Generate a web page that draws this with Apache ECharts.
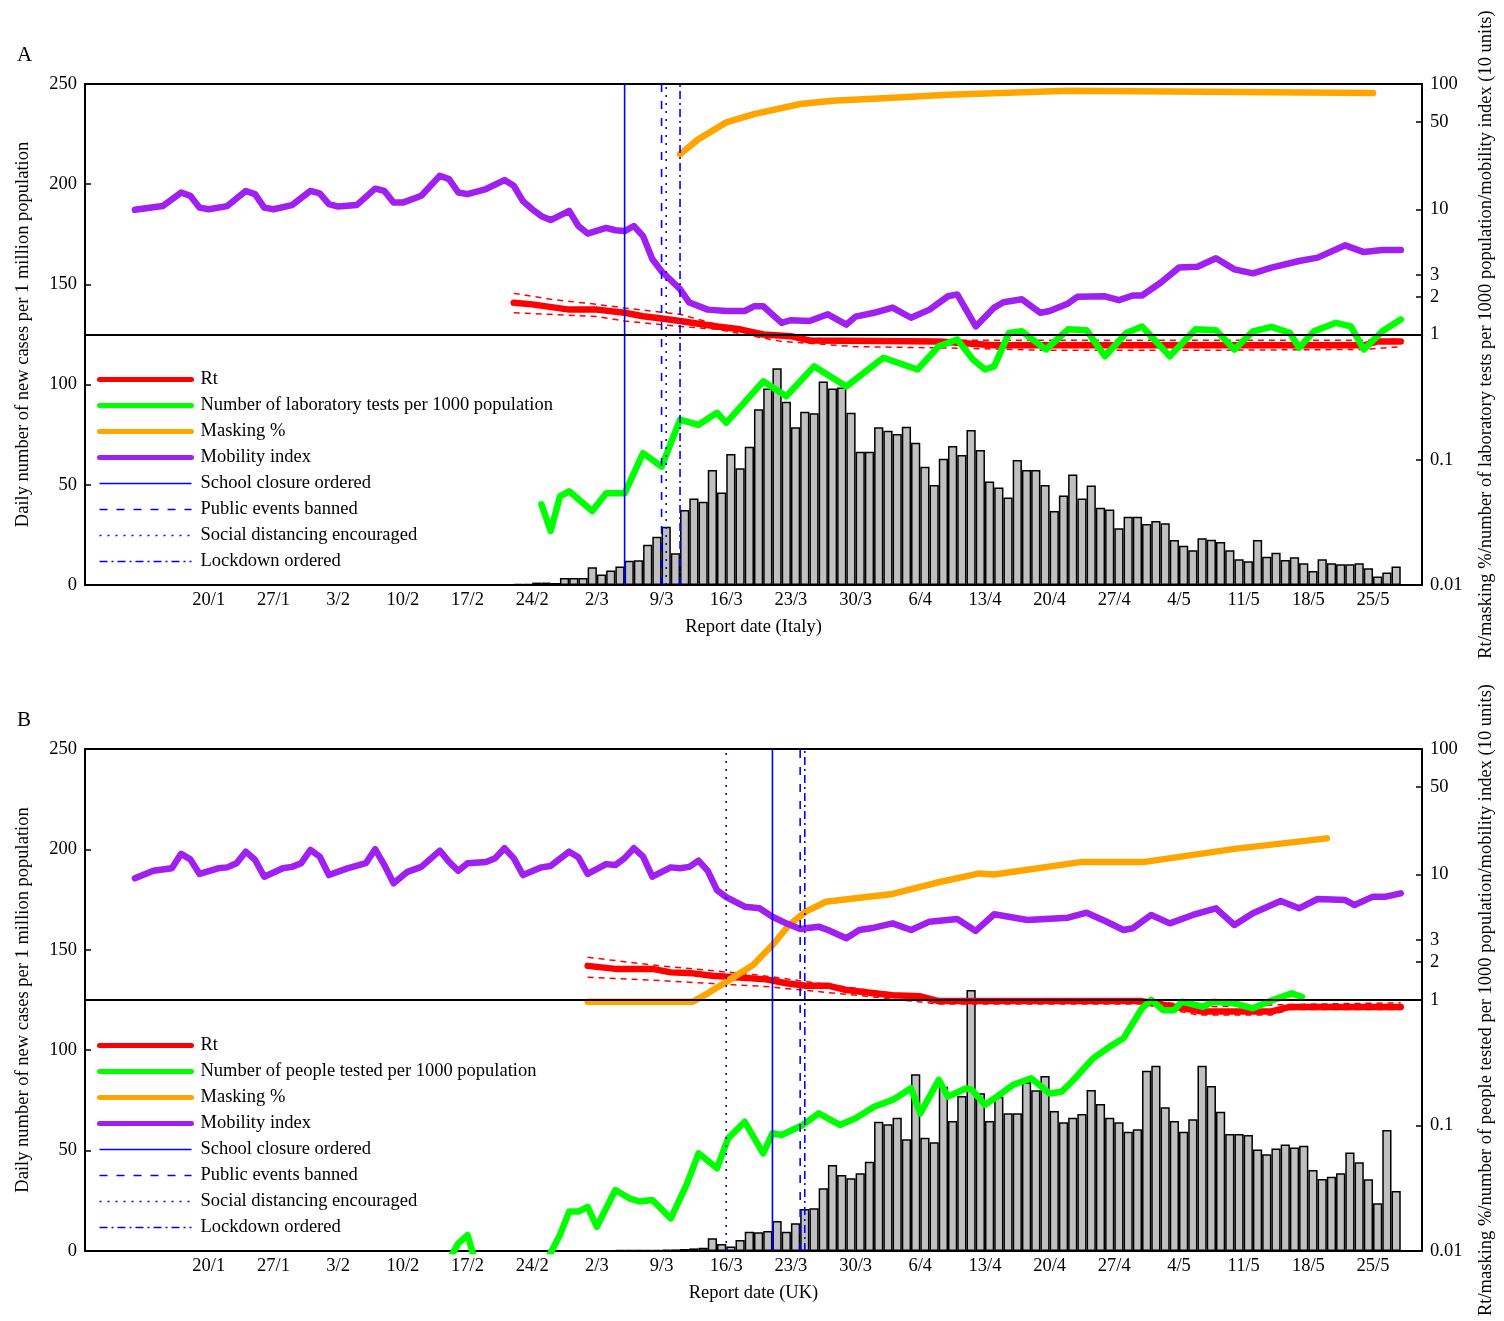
<!DOCTYPE html>
<html>
<head>
<meta charset="utf-8">
<script src="https://cdn.jsdelivr.net/npm/echarts@6/dist/echarts.min.js"></script>
<style>
html, body { margin: 0; padding: 0; background: #fff; }
#chart { width: 1504px; height: 1321px; }
</style>
</head>
<body>
<div id="chart"></div>
<script>
// x values are day of year 2020 (1 = 1 Jan); a bar for day d covers [d, d+1]
var tickDays = [20, 27, 34, 41, 48, 55, 62, 69, 76, 83, 90, 97, 104, 111, 118, 125, 132, 139, 146];
var tickLabels = ['20/1', '27/1', '3/2', '10/2', '17/2', '24/2', '2/3', '9/3', '16/3', '23/3', '30/3',
                  '6/4', '13/4', '20/4', '27/4', '4/5', '11/5', '18/5', '25/5'];
var rightTicks = [0.01, 0.1, 1, 2, 3, 10, 50, 100];

var policyNames = ['School closure ordered', 'Public events banned', 'Social distancing encouraged', 'Lockdown ordered'];
var itPolicyDays = [65, 69, 69.5, 71];
var ukPolicyDays = [81, 84, 76, 84.5];

// ---- Italy ----
var itCasesStart = 53;
var itCases = [0.5, 0.5, 1.2, 1.2, 1.0, 3.5, 3.5, 3.5, 8.8, 5.2, 7.2, 9.2, 12.1, 12.3, 20.1, 24.1, 29.1, 15.8,
  37.4, 43.2, 41.6, 57.4, 46.1, 65.4, 58.2, 69.0, 87.7, 98.1, 108.1, 91.5, 78.7, 86.5, 85.7, 101.5, 98.1, 98.6,
  86.0, 66.5, 66.5, 78.7, 77.0, 75.3, 79.0, 71.0, 59.0, 49.9, 63.0, 69.4, 64.9, 77.3, 67.4, 51.6, 48.7, 43.7,
  62.4, 57.4, 57.4, 49.9, 36.9, 44.6, 55.2, 43.2, 49.6, 38.6, 37.7, 28.3, 34.1, 34.1, 30.4, 31.9, 30.8, 22.5,
  19.6, 17.3, 23.3, 22.6, 21.5, 17.3, 12.8, 11.8, 22.5, 14.1, 16.1, 12.5, 13.8, 10.8, 7.0, 12.8, 10.8, 10.3,
  10.3, 10.8, 8.3, 4.2, 6.2, 9.2];

var itRt = [[53, 1.79], [55, 1.74], [59, 1.58], [62, 1.58], [65, 1.49], [67, 1.40], [69, 1.34], [71, 1.28],
  [75, 1.16], [77.5, 1.10], [80, 1.0], [83, 0.97], [85, 0.895], [99, 0.88], [105, 0.82], [145, 0.82],
  [146.5, 0.88], [149, 0.88]];
var itRtUpper = [[53, 2.13], [57, 1.91], [62, 1.74], [65, 1.63], [71, 1.45], [75, 1.20], [80, 1.03],
  [85, 0.93], [100, 0.9], [146, 0.9], [149, 0.92]];
var itRtLower = [[53, 1.49], [57, 1.45], [62, 1.39], [65, 1.28], [71, 1.16], [75, 1.10], [82, 0.88],
  [90, 0.8], [100, 0.78], [110, 0.75], [130, 0.75], [145, 0.76], [149, 0.8]];

var itTests = [[56, 0.044], [57, 0.027], [58, 0.051], [59, 0.056], [61.5, 0.039], [63, 0.054], [65, 0.054],
  [67, 0.113], [69, 0.088], [71, 0.209], [73, 0.19], [75, 0.237], [76, 0.197], [80, 0.423], [82.5, 0.321],
  [85.5, 0.557], [89, 0.385], [93, 0.652], [96.7, 0.525], [99, 0.806], [101, 0.912], [102.7, 0.631],
  [104, 0.525], [105, 0.557], [106.6, 1.03], [108, 1.06], [110.6, 0.759], [113, 1.10], [115, 1.08],
  [117, 0.67], [119.3, 1.03], [121, 1.16], [124, 0.67], [126.8, 1.10], [129, 1.08], [131, 0.759],
  [133, 1.06], [135, 1.15], [137, 1.03], [138, 0.783], [139.6, 1.06], [142, 1.24], [143.6, 1.16],
  [145, 0.759], [147, 1.06], [149, 1.32]];

var itMasking = [[71, 27.5], [73, 36.3], [76, 49.4], [79, 57.5], [84, 69.2], [87.5, 73.5], [93, 76.9],
  [100, 82], [113, 88.4], [146, 84.7]];

var itMobility = [[12, 9.9], [15, 10.6], [17, 13.6], [18, 12.8], [19, 10.3], [20, 10.0], [22, 10.6], [24, 14.0],
  [25, 13.2], [26, 10.3], [27, 10.0], [29, 10.8], [31, 14.0], [32, 13.4], [33, 11.0], [34, 10.5], [36, 10.8],
  [38, 14.6], [39, 14.0], [40, 11.3], [41, 11.3], [43, 12.8], [45, 18.5], [46, 17.4], [47, 13.6], [48, 13.2],
  [50, 14.5], [52, 17.1], [53, 15.4], [54, 11.6], [55, 10.0], [56, 8.8], [57, 8.2], [59, 9.7], [60, 7.35],
  [61, 6.4], [63, 7.1], [64, 6.8], [65, 6.7], [66, 7.35], [67, 6.1], [68, 4.0], [69, 3.2], [71, 2.3], [72, 1.8],
  [74, 1.58], [76, 1.54], [78, 1.54], [79, 1.68], [80, 1.68], [82, 1.24], [83, 1.30], [85, 1.28], [87, 1.45],
  [89, 1.20], [90, 1.39], [92, 1.49], [94, 1.64], [96, 1.36], [98, 1.58], [100, 2.02], [101, 2.09], [103, 1.16],
  [105, 1.64], [106, 1.81], [108, 1.91], [110, 1.49], [111, 1.54], [113, 1.77], [114, 2.0], [117, 2.02],
  [118.5, 1.88], [120, 2.05], [121, 2.05], [123, 2.59], [125, 3.42], [127, 3.48], [129, 4.06], [131, 3.31],
  [133, 3.08], [135, 3.42], [138, 3.86], [140, 4.11], [143, 5.15], [145, 4.55], [147, 4.72], [149, 4.72]];

// ---- UK ----
var ukCasesStart = 60;
var ukCases = [0.2, 0.2, 0.3, 0.3, 0.4, 0.4, 0.5, 0.6, 0.6, 0.7, 0.8, 1.0, 1.3, 1.6, 6.3, 3.5, 2.2, 5.5, 9.6,
  9.3, 10.0, 14.9, 9.6, 13.8, 20.9, 21.3, 31.2, 42.8, 37.8, 36.2, 38.7, 44.5, 64.4, 63.1, 66.4, 55.6, 88.0,
  56.4, 54.1, 81.8, 64.7, 77.2, 130.0, 78.5, 64.7, 76.8, 68.6, 68.6, 84.0, 80.0, 87.2, 69.7, 64.1, 66.4, 68.2,
  80.2, 73.2, 66.4, 64.1, 59.4, 60.6, 89.8, 92.3, 71.6, 64.7, 59.4, 65.6, 92.3, 82.2, 69.4, 58.3, 58.3, 57.8,
  50.6, 48.2, 51.1, 53.1, 51.5, 52.4, 40.3, 35.9, 37.0, 38.7, 49.1, 44.2, 35.7, 23.8, 60.3, 29.9];

var ukRt = [[61, 1.87], [64, 1.77], [68, 1.77], [70, 1.66], [72.4, 1.63], [74.5, 1.56], [77.4, 1.51],
  [80.3, 1.46], [82.5, 1.36], [84.6, 1.30], [87, 1.30], [89, 1.20], [92, 1.13], [94, 1.09], [97, 1.07],
  [99, 0.98], [121, 0.98], [127.5, 0.81], [135, 0.81], [137, 0.88], [149, 0.88]];
var ukRtUpper = [[61, 2.19], [68, 1.90], [79.5, 1.58], [94, 1.13], [99, 1.02], [121, 1.02], [127, 0.88],
  [137, 0.92], [149, 0.95]];
var ukRtLower = [[61, 1.52], [68, 1.44], [80.3, 1.28], [91.8, 1.06], [99, 0.93], [121, 0.93], [127, 0.76],
  [135, 0.76], [137, 0.84], [149, 0.84]];

var ukTests = [[46, 0.0085], [47, 0.0115], [48, 0.0134], [49, 0.0075], [56, 0.007], [58, 0.0134],
  [59, 0.0206], [60, 0.0206], [61, 0.0225], [62, 0.0156], [64, 0.0306], [65.5, 0.0263], [66.6, 0.0248],
  [68, 0.0255], [70, 0.0182], [71.7, 0.0336], [73, 0.060], [75, 0.0456], [76.2, 0.079], [78, 0.107],
  [80, 0.060], [81, 0.0867], [82, 0.084], [84.3, 0.101], [86, 0.125], [88.3, 0.101], [90, 0.114],
  [92, 0.141], [94, 0.160], [96, 0.198], [97, 0.125], [99, 0.231], [100, 0.170], [102, 0.198],
  [102.6, 0.192], [104, 0.146], [105, 0.164], [107, 0.210], [109, 0.238], [111, 0.180], [112.3, 0.186],
  [113.4, 0.223], [115.7, 0.343], [117.5, 0.425], [119, 0.495], [121, 0.859], [122, 1.0], [123.3, 0.83],
  [124.5, 0.83], [125.3, 0.97], [127.6, 0.884], [128.7, 0.97], [131, 0.94], [133, 0.859], [134.7, 0.97],
  [137.2, 1.13], [138.3, 1.06]];

var ukMasking = [[61, 0.97], [72.4, 0.97], [74, 1.13], [76.3, 1.44], [78.9, 1.90], [81, 2.74], [82.8, 3.96],
  [84.6, 5.06], [86.8, 6.07], [90, 6.46], [94, 7.0], [98.5, 8.51], [103.4, 10.2], [105, 10.0], [114.5, 12.6],
  [121.3, 12.6], [131, 16.0], [141, 19.4]];

var ukMobility = [[12, 9.33], [14, 10.7], [16, 11.2], [17, 14.6], [18, 13.2], [19, 10.1], [21, 11.2], [22, 11.4],
  [23, 12.3], [24, 15.2], [25, 13.1], [26, 9.6], [28, 11.2], [29, 11.5], [30, 12.3], [31, 15.7], [32, 13.9],
  [33, 9.9], [35, 11.2], [37, 12.3], [38, 15.9], [39, 11.9], [40, 8.5], [41.5, 10.5], [43, 11.5], [45, 15.5],
  [46, 12.6], [47, 10.7], [48, 12.3], [50, 12.6], [51, 13.5], [52, 16.2], [53, 13.5], [54, 9.9], [56, 11.4],
  [57, 11.7], [59, 15.2], [60, 13.7], [61, 10.1], [63, 12.1], [64, 11.9], [65, 13.5], [66, 16.2], [67, 13.9],
  [68, 9.6], [70, 11.4], [71, 11.2], [72, 11.5], [73, 12.9], [74, 10.7], [75, 7.5], [76, 6.6], [78, 5.54],
  [79.6, 5.38], [81, 4.61], [82.5, 4.08], [84, 3.68], [86, 3.84], [87, 3.61], [89, 3.10], [90.4, 3.61],
  [92, 3.77], [94, 4.08], [96, 3.61], [98, 4.21], [101, 4.42], [103, 3.55], [105, 4.82], [108.6, 4.34],
  [113, 4.53], [115, 4.96], [117, 4.26], [119, 3.61], [120, 3.73], [122, 4.76], [124, 4.08], [126.5, 4.76],
  [129, 5.38], [131, 3.96], [133, 4.91], [136, 6.15], [138, 5.38], [140, 6.38], [143, 6.26], [144, 5.71],
  [146, 6.66], [147.4, 6.66], [149, 7.08]];

var FONT = '"Liberation Serif", "Times New Roman", serif';
var FS = 18.5;
var policyDash = ['solid', [8, 9], [2, 6], [8, 4, 2, 4]];

var panels = [
  {
    letter: 'A', top: 84, height: 501, country: 'Italy',
    testsName: 'Number of laboratory tests per 1000 population',
    rightName: 'Rt/masking %/number of laboratory tests per 1000 population/mobility index (10 units)',
    casesStart: itCasesStart, cases: itCases, rt: itRt, rtUp: itRtUpper, rtLo: itRtLower,
    tests: itTests, masking: itMasking, mobility: itMobility, policy: itPolicyDays, legendTop: 370
  },
  {
    letter: 'B', top: 749, height: 502, country: 'UK',
    testsName: 'Number of people tested per 1000 population',
    rightName: 'Rt/masking %/number of people tested per 1000 population/mobility index (10 units)',
    casesStart: ukCasesStart, cases: ukCases, rt: ukRt, rtUp: ukRtUpper, rtLo: ukRtLower,
    tests: ukTests, masking: ukMasking, mobility: ukMobility, policy: ukPolicyDays, legendTop: 1036
  }
];

var grids = [], xAxes = [], yAxes = [], series = [], legends = [], titles = [];

function thickLine(name, data, color, xi, yi) {
  return {
    type: 'line', name: name, data: data, xAxisIndex: xi, yAxisIndex: yi,
    symbol: 'none', z: 3,
    lineStyle: { color: color, width: 6.5, cap: 'round', join: 'round' },
    itemStyle: { color: color }
  };
}

panels.forEach(function (p, i) {
  var yl = i * 2, yr = i * 2 + 1;
  grids.push({ left: 85, width: 1338, top: p.top, height: p.height, show: true,
    borderColor: '#000', borderWidth: 2, backgroundColor: 'transparent' });
  titles.push({ text: p.letter, left: 12, top: p.top - 44,
    textStyle: { fontFamily: FONT, fontSize: 21, fontWeight: 'normal', color: '#000' } });

  xAxes.push({
    type: 'value', gridIndex: i, min: 6.6, max: 151.3,
    name: 'Report date (' + p.country + ')', nameLocation: 'middle', nameGap: 33,
    nameTextStyle: { fontFamily: FONT, fontSize: FS, color: '#000' },
    axisLine: { show: true, lineStyle: { color: '#000', width: 2 } },
    axisTick: { show: false },
    splitLine: { show: false },
    axisLabel: {
      customValues: tickDays, margin: 6,
      fontFamily: FONT, fontSize: FS, color: '#000',
      formatter: function (v) { return tickLabels[tickDays.indexOf(Math.round(v))]; }
    }
  });

  yAxes.push({
    type: 'value', gridIndex: i, position: 'left', min: 0, max: 250, interval: 50,
    name: 'Daily number of new cases per 1 million population', nameLocation: 'middle',
    nameRotate: 90, nameGap: 52,
    nameTextStyle: { fontFamily: FONT, fontSize: FS, color: '#000' },
    axisLine: { show: true, lineStyle: { color: '#000', width: 2 } },
    axisTick: { show: true, inside: true, length: 6, lineStyle: { color: '#000', width: 1.5 } },
    splitLine: { show: false },
    axisLabel: { margin: 8, fontFamily: FONT, fontSize: FS, color: '#000' }
  });
  yAxes.push({
    type: 'log', logBase: 10, gridIndex: i, position: 'right', min: 0.01, max: 100,
    name: p.rightName, nameLocation: 'middle', nameRotate: 90, nameGap: 55,
    nameTextStyle: { fontFamily: FONT, fontSize: FS, color: '#000' },
    axisLine: { show: true, lineStyle: { color: '#000', width: 2 } },
    axisTick: { show: true, inside: true, length: 6, customValues: rightTicks,
      lineStyle: { color: '#000', width: 1.5 } },
    splitLine: { show: false }, minorTick: { show: false },
    axisLabel: { customValues: rightTicks, margin: 8, fontFamily: FONT, fontSize: FS, color: '#000',
      formatter: function (v) { return String(v); } }
  });

  // daily cases
  series.push({
    type: 'bar', name: 'Cases ' + p.country, xAxisIndex: i, yAxisIndex: yl,
    barWidth: 9.25, z: 2,
    itemStyle: { color: '#c0c0c0', borderColor: '#000', borderWidth: 1.5 },
    data: p.cases.map(function (v, k) { return [p.casesStart + k + 0.5, v]; })
  });

  // Rt credible interval
  [p.rtUp, p.rtLo].forEach(function (d, k) {
    series.push({
      type: 'line', name: 'Rt interval ' + p.country + k, data: d, xAxisIndex: i, yAxisIndex: yr,
      symbol: 'none', z: 3, lineStyle: { color: '#ff0000', width: 1.5, type: [6, 5] }
    });
  });

  var rt = thickLine('Rt', p.rt, '#ff0000', i, yr);
  rt.markLine = {
    silent: true, symbol: 'none', label: { show: false },
    lineStyle: { color: '#000', width: 1.8, type: 'solid' },
    data: [{ yAxis: 1 }]
  };
  series.push(rt);
  series.push(thickLine(p.testsName, p.tests, '#00ff00', i, yr));
  series.push(thickLine('Masking %', p.masking, '#ffa500', i, yr));
  series.push(thickLine('Mobility index', p.mobility, '#a020f0', i, yr));

  policyNames.forEach(function (name, k) {
    series.push({
      type: 'line', name: name, xAxisIndex: i, yAxisIndex: yr, symbol: 'none', z: 4,
      lineStyle: { color: '#0000ff', width: 1.6, type: policyDash[k] },
      itemStyle: { color: '#0000ff' },
      data: [[p.policy[k], 0.01], [p.policy[k], 100]]
    });
  });

  var thick = { width: 5, cap: 'round' };
  var noDot = { opacity: 0 };
  legends.push({
    orient: 'vertical', left: 97, top: p.legendTop, padding: 0,
    itemWidth: 92, itemHeight: 18, itemGap: 7,
    selectedMode: false,
    itemStyle: noDot,
    textStyle: { fontFamily: FONT, fontSize: FS, lineHeight: 18, color: '#000', padding: [0, 0, 0, 4] },
    lineStyle: { width: 'inherit' },
    data: [
      { name: 'Rt', lineStyle: thick, itemStyle: noDot },
      { name: p.testsName, lineStyle: thick, itemStyle: noDot },
      { name: 'Masking %', lineStyle: thick, itemStyle: noDot },
      { name: 'Mobility index', lineStyle: thick, itemStyle: noDot }
    ].concat(policyNames.map(function (n) {
      return { name: n, lineStyle: { width: 1.6 }, itemStyle: noDot };
    }))
  });
});

var chart = echarts.init(document.getElementById('chart'), null, { renderer: 'canvas' });
chart.setOption({
  animation: false,
  backgroundColor: '#fff',
  title: titles,
  grid: grids,
  xAxis: xAxes,
  yAxis: yAxes,
  legend: legends,
  series: series
});
</script>
</body>
</html>
